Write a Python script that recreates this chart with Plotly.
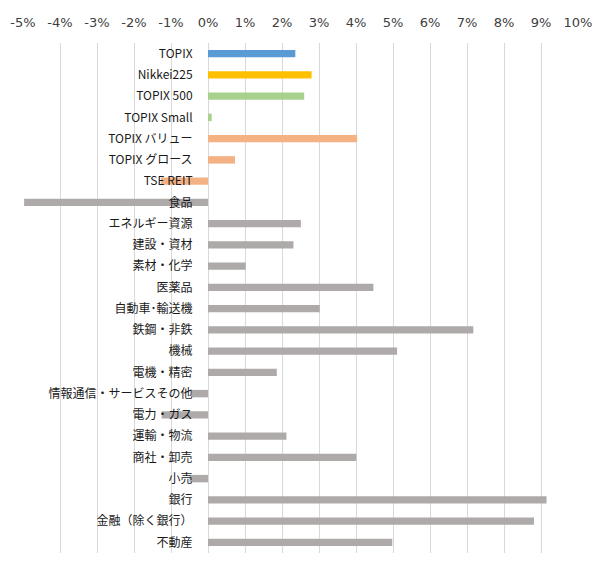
import plotly.graph_objects as go

categories = ["TOPIX", "Nikkei225", "TOPIX 500", "TOPIX Small", "TOPIX バリュー", "TOPIX グロース",
              "TSE REIT", "食品", "エネルギー資源", "建設・資材", "素材・化学", "医薬品",
              "自動車･輸送機", "鉄鋼・非鉄", "機械", "電機・精密", "情報通信・サービスその他",
              "電力・ガス", "運輸・物流", "商社・卸売", "小売", "銀行", "金融（除く銀行）", "不動産"]
values = [2.36, 2.80, 2.60, 0.10, 4.03, 0.73,
          -1.27, -4.97, 2.51, 2.31, 1.02, 4.47,
          3.02, 7.17, 5.11, 1.86, -0.45,
          -1.25, 2.12, 4.01, -0.50, 9.15, 8.81, 4.98]
colors = ["#5B9BD5", "#FFC000", "#A9D18E", "#A9D18E", "#F4B183", "#F4B183",
          "#F4B183"] + ["#AEAAAA"] * 17
x_ticks = list(range(-5, 11))
x_tick_labels = [f"{v}%" for v in x_ticks]

fig = go.Figure(go.Bar(
    x=values, y=categories, orientation="h",
    marker=dict(color=colors, line=dict(width=0)),
    hoverinfo="x+y",
))

# page body has an 8px default margin, so the figure is offset by 8px
fig.update_layout(
    width=593, height=560,
    margin=dict(l=15, r=23, t=35, b=15, autoexpand=False),
    paper_bgcolor="white", plot_bgcolor="white",
    bargap=0.65,
    showlegend=False,
    xaxis=dict(
        range=[-5, 10], side="top", automargin=False,
        tickvals=x_ticks, ticktext=x_tick_labels,
        showgrid=True, gridcolor="#D9D9D9", gridwidth=1,
        zeroline=True, zerolinecolor="#D9D9D9", zerolinewidth=1,
        showline=False,
        ticks="outside", ticklen=10, tickcolor="rgba(0,0,0,0)",
        tickfont=dict(family="DejaVu Sans", size=13, color="#404040"),
    ),
    yaxis=dict(
        autorange="reversed", automargin=False,
        anchor="free", position=1/3,
        showgrid=False, showline=False, zeroline=False,
        ticks="outside", ticklen=13, tickcolor="rgba(0,0,0,0)",
        tickfont=dict(family="Noto Sans CJK JP", size=12, color="#1A1A1A"),
    ),
)

fig.write_html("out.html")
